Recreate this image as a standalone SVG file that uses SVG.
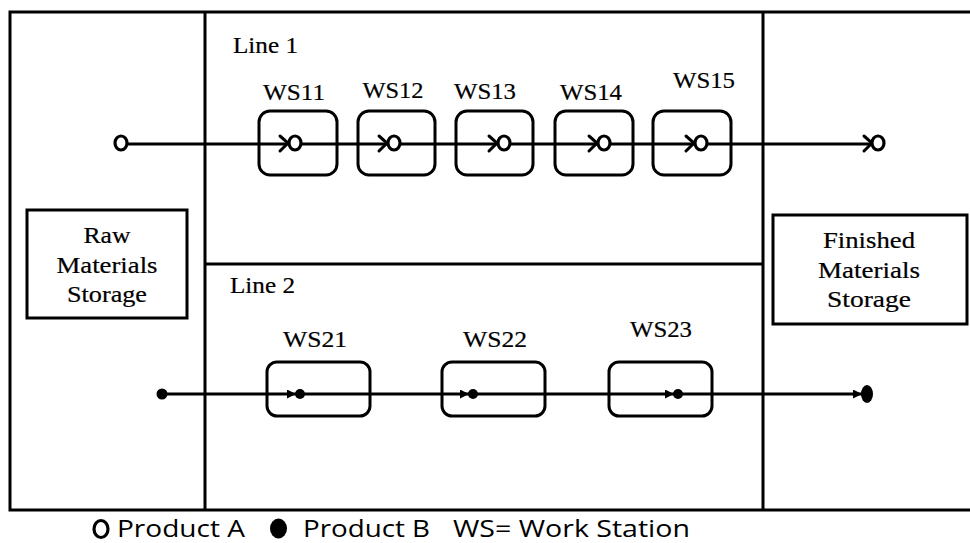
<svg xmlns="http://www.w3.org/2000/svg" width="970" height="543" viewBox="0 0 970 543">
  <style>
    .frame { fill: none; stroke: #000; stroke-width: 3; }
    .ws { fill: #fff; stroke: #000; stroke-width: 3; }
    .store { fill: #fff; stroke: #000; stroke-width: 3; }
    .flow { fill: none; stroke: #000; stroke-width: 3; }
    .chev { fill: none; stroke: #000; stroke-width: 3; stroke-linecap: round; stroke-linejoin: miter; }
    .pa { fill: #fff; stroke: #000; stroke-width: 3.2; }
    .pb { fill: #000; }
    .lbl { font-family: "Liberation Serif", "DejaVu Serif", serif; font-size: 23px; fill: #000; stroke: #000; stroke-width: 0.2; }
    .mid { text-anchor: middle; }
    .legend { font-family: "Open Sans", "Liberation Sans", sans-serif; font-size: 24px; fill: #000; }
  </style>
  <defs>
    <marker id="tri" viewBox="0 0 10 10" refX="10" refY="5" markerWidth="10" markerHeight="9" markerUnits="userSpaceOnUse" orient="auto">
      <path d="M0,0 L10,5 L0,10 Z" fill="#000"/>
    </marker>
  </defs>

  <!-- plant layout frame -->
  <g id="frame">
    <rect class="frame" x="10" y="12" width="970" height="498"/>
    <line class="frame" x1="205" y1="12" x2="205" y2="510"/>
    <line class="frame" x1="763" y1="12" x2="763" y2="510"/>
    <line class="frame" x1="205" y1="264" x2="763" y2="264"/>
    <text class="lbl" x="233" y="53" textLength="65" lengthAdjust="spacingAndGlyphs">Line 1</text>
    <text class="lbl" x="230" y="293" textLength="65" lengthAdjust="spacingAndGlyphs">Line 2</text>
  </g>

  <!-- storage areas -->
  <g id="raw-storage">
    <rect class="store" x="27" y="210" width="160" height="108"/>
    <text class="lbl mid" x="107" y="243" textLength="47" lengthAdjust="spacingAndGlyphs">Raw</text>
    <text class="lbl mid" x="107" y="273" textLength="101" lengthAdjust="spacingAndGlyphs">Materials</text>
    <text class="lbl mid" x="107" y="302" textLength="80" lengthAdjust="spacingAndGlyphs">Storage</text>
  </g>
  <g id="finished-storage">
    <rect class="store" x="773" y="215" width="194" height="109"/>
    <text class="lbl mid" x="869" y="248" textLength="92" lengthAdjust="spacingAndGlyphs">Finished</text>
    <text class="lbl mid" x="869" y="278" textLength="102" lengthAdjust="spacingAndGlyphs">Materials</text>
    <text class="lbl mid" x="869" y="307" textLength="84" lengthAdjust="spacingAndGlyphs">Storage</text>
  </g>

  <!-- line 1 work stations -->
  <g id="WS11">
    <rect class="ws" x="259" y="111" width="78" height="64" rx="11"/>
    <text class="lbl mid" x="294" y="100" textLength="62" lengthAdjust="spacingAndGlyphs">WS11</text>
  </g>
  <g id="WS12">
    <rect class="ws" x="358" y="111" width="77" height="64" rx="11"/>
    <text class="lbl mid" x="393" y="98" textLength="61" lengthAdjust="spacingAndGlyphs">WS12</text>
  </g>
  <g id="WS13">
    <rect class="ws" x="456" y="111" width="77" height="64" rx="11"/>
    <text class="lbl mid" x="485" y="99" textLength="62" lengthAdjust="spacingAndGlyphs">WS13</text>
  </g>
  <g id="WS14">
    <rect class="ws" x="555" y="111" width="78" height="64" rx="11"/>
    <text class="lbl mid" x="591" y="100" textLength="62" lengthAdjust="spacingAndGlyphs">WS14</text>
  </g>
  <g id="WS15">
    <rect class="ws" x="653" y="111" width="78" height="64" rx="11"/>
    <text class="lbl mid" x="704" y="88" textLength="62" lengthAdjust="spacingAndGlyphs">WS15</text>
  </g>

  <!-- line 2 work stations -->
  <g id="WS21">
    <rect class="ws" x="267" y="362" width="103" height="54" rx="10"/>
    <text class="lbl mid" x="315" y="347" textLength="64" lengthAdjust="spacingAndGlyphs">WS21</text>
  </g>
  <g id="WS22">
    <rect class="ws" x="442" y="362" width="103" height="54" rx="10"/>
    <text class="lbl mid" x="495" y="347" textLength="64" lengthAdjust="spacingAndGlyphs">WS22</text>
  </g>
  <g id="WS23">
    <rect class="ws" x="609" y="362" width="103" height="54" rx="10"/>
    <text class="lbl mid" x="661" y="337" textLength="62" lengthAdjust="spacingAndGlyphs">WS23</text>
  </g>

  <!-- material flow -->
  <g id="connectors">
    <!-- line 1: product A -->
    <line class="flow" x1="127" y1="144" x2="871" y2="144"/>
    <path class="chev" d="M280,136 L288,143 L280,151"/>
    <path class="chev" d="M379,136 L387,143 L379,151"/>
    <path class="chev" d="M489,136 L497,143 L489,151"/>
    <path class="chev" d="M589,136 L597,143 L589,151"/>
    <path class="chev" d="M686,136 L694,143 L686,151"/>
    <path class="chev" d="M864,136 L872,143 L864,151"/>
    <ellipse class="pa" cx="121" cy="143" rx="6" ry="7"/>
    <ellipse class="pa" cx="295" cy="143" rx="6" ry="7"/>
    <ellipse class="pa" cx="394" cy="143" rx="6" ry="7"/>
    <ellipse class="pa" cx="504" cy="143" rx="6" ry="7"/>
    <ellipse class="pa" cx="604" cy="143" rx="6" ry="7"/>
    <ellipse class="pa" cx="701" cy="143" rx="6" ry="7"/>
    <ellipse class="pa" cx="878" cy="143" rx="6" ry="7"/>

    <!-- line 2: product B -->
    <line class="flow" x1="162" y1="394" x2="296" y2="394" marker-end="url(#tri)"/>
    <line class="flow" x1="300" y1="394" x2="469" y2="394" marker-end="url(#tri)"/>
    <line class="flow" x1="473" y1="394" x2="674" y2="394" marker-end="url(#tri)"/>
    <line class="flow" x1="678" y1="394" x2="862" y2="394" marker-end="url(#tri)"/>
    <circle class="pb" cx="162" cy="394" r="5.5"/>
    <circle class="pb" cx="300" cy="394" r="5"/>
    <circle class="pb" cx="473" cy="394" r="5"/>
    <circle class="pb" cx="678" cy="394" r="5"/>
    <ellipse class="pb" cx="867" cy="394" rx="6" ry="9"/>
  </g>

  <!-- key -->
  <g id="legend">
    <ellipse class="pa" cx="101" cy="529" rx="7" ry="8.5"/>
    <text class="legend" x="117" y="537" textLength="128" lengthAdjust="spacingAndGlyphs">Product A</text>
    <ellipse class="pb" cx="278.5" cy="528.5" rx="8.5" ry="10"/>
    <text class="legend" x="303" y="537" textLength="127" lengthAdjust="spacingAndGlyphs">Product B</text>
    <text class="legend" x="453" y="537" textLength="237" lengthAdjust="spacingAndGlyphs">WS= Work Station</text>
  </g>
</svg>
